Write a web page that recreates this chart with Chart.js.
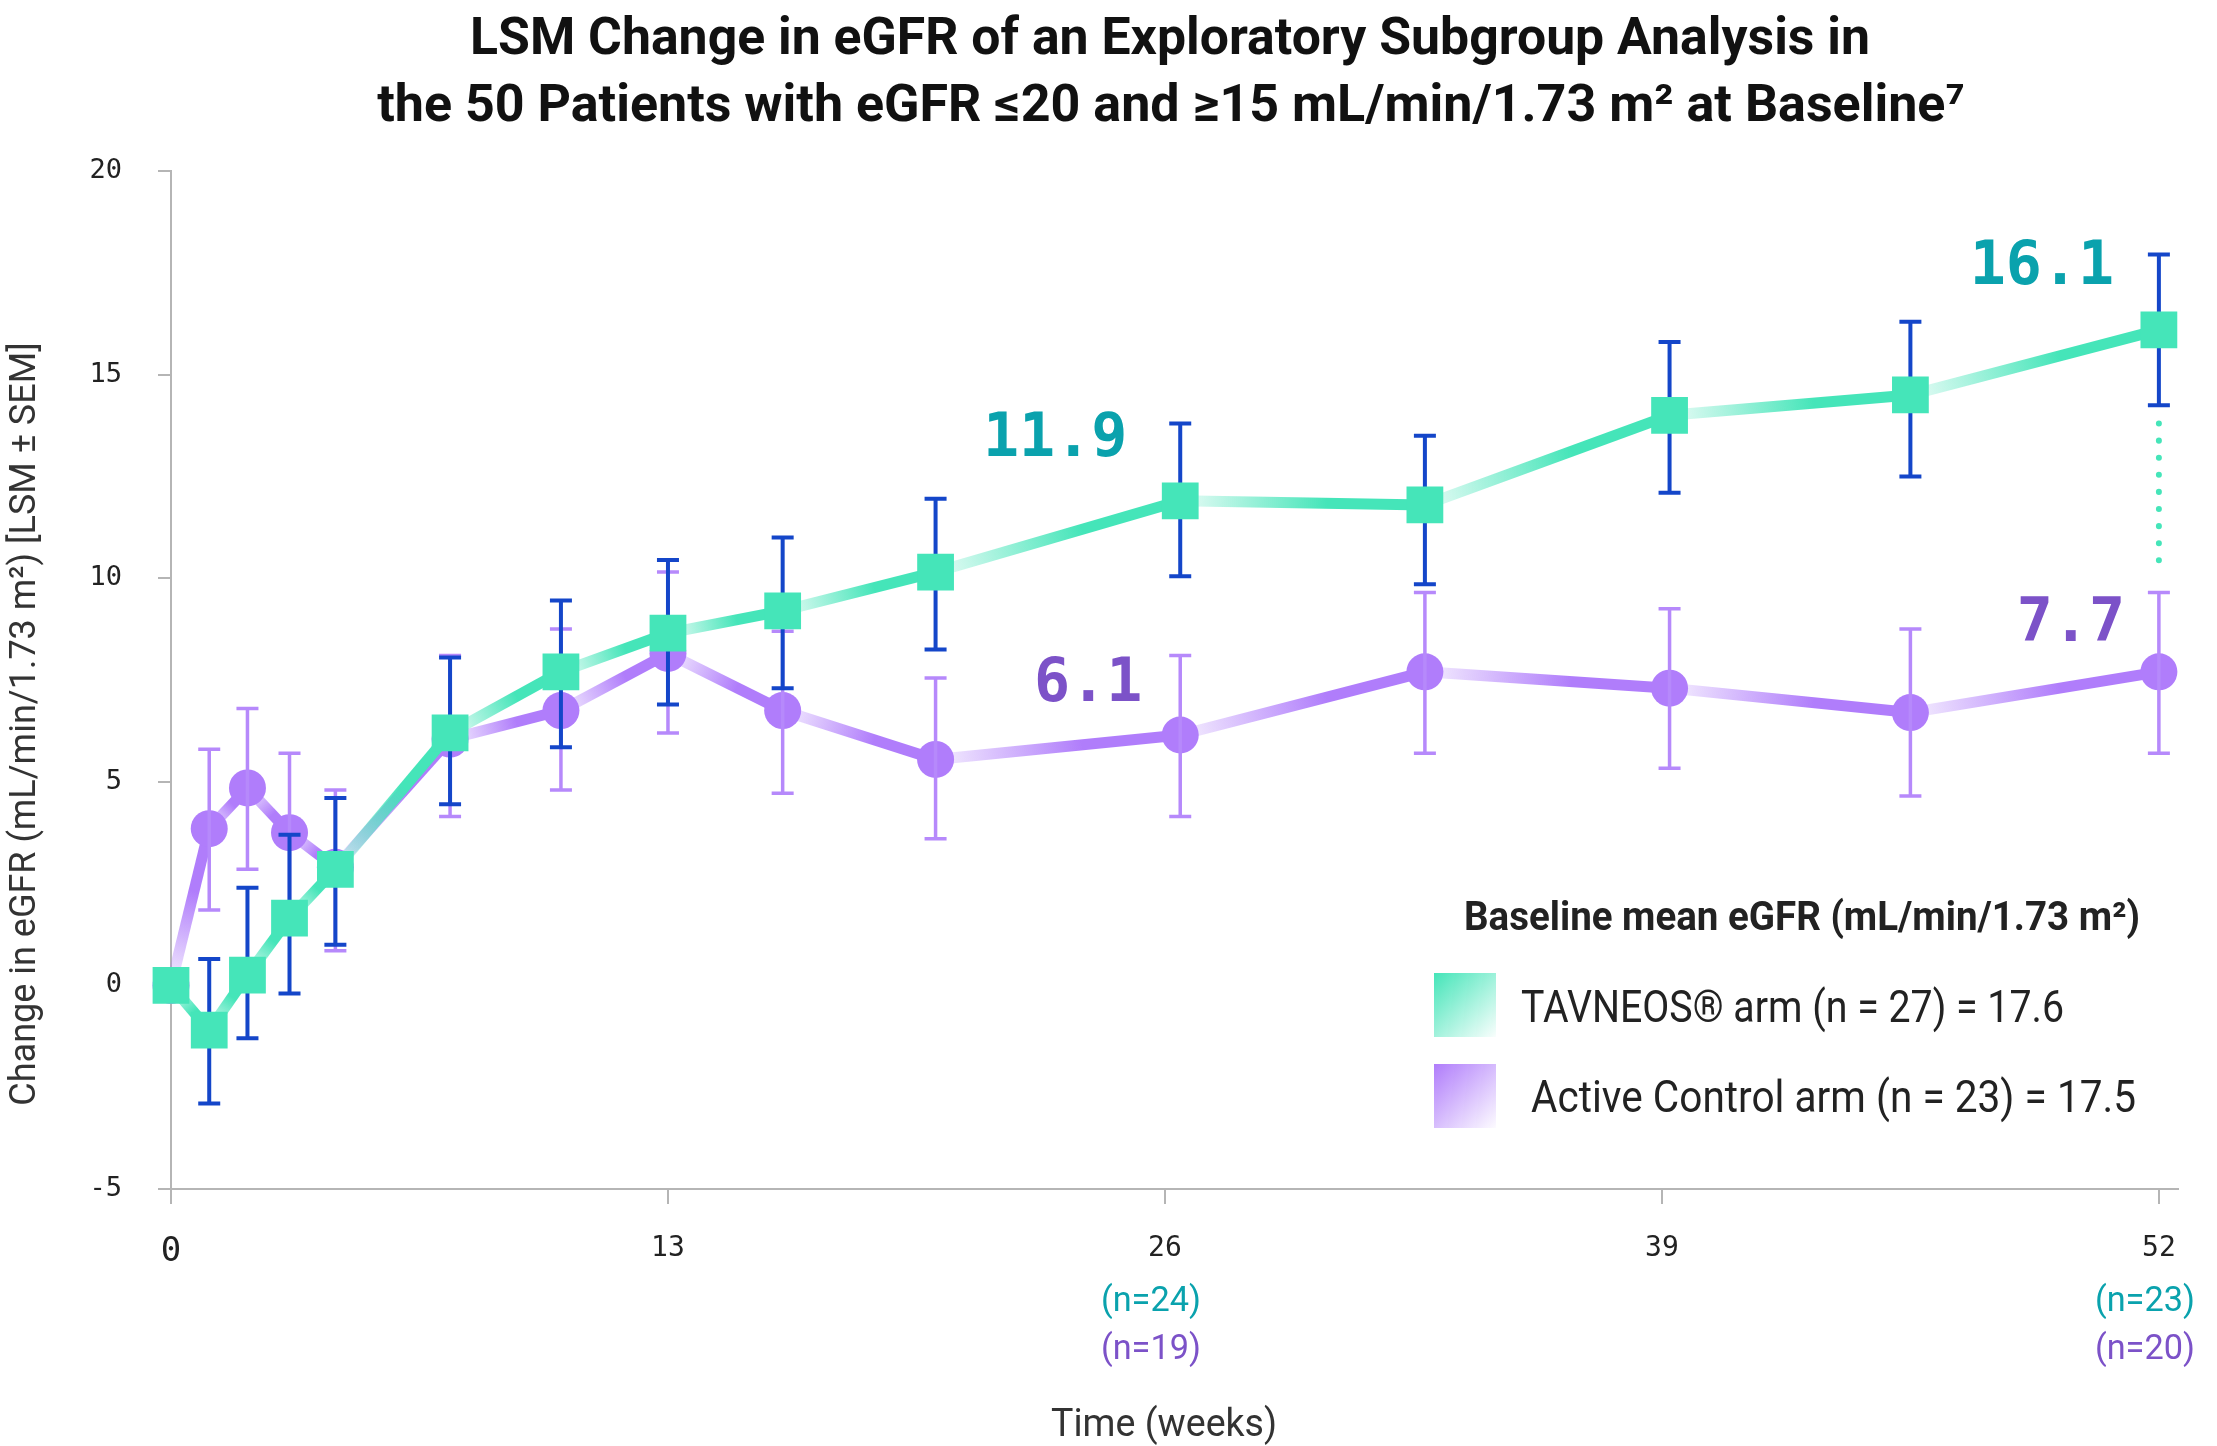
<!DOCTYPE html>
<html>
<head>
<meta charset="utf-8">
<title>LSM Change in eGFR</title>
<script src="https://cdn.jsdelivr.net/npm/chart.js@4.4.0/dist/chart.umd.min.js"></script>
<style>
    html, body { margin: 0; padding: 0; background: #fff; }
    #wrap { width: 2217px; height: 1446px; position: relative; }
</style>
</head>
<body>
<div id="wrap"><canvas id="chart"></canvas></div>
<script>
    // visit weeks, as placed on the x axis
    const weeks = [0, 1, 2, 3.1, 4.3, 7.3, 10.2, 13, 16, 20, 26.4, 32.8, 39.2, 45.5, 52];
    const xTicks = [0, 13, 26, 39, 52];

    // TAVNEOS arm: LSM change and the ends of the SEM bars
    const tavMean = [0, -1.1, 0.25, 1.65, 2.85, 6.2, 7.7, 8.65, 9.2, 10.15, 11.9, 11.8, 14.0, 14.5, 16.1];
    const tavHigh = [null, 0.65, 2.4, 3.7, 4.6, 8.05, 9.45, 10.45, 11.0, 11.95, 13.8, 13.5, 15.8, 16.3, 17.95];
    const tavLow  = [null, -2.9, -1.3, -0.2, 1.0, 4.45, 5.85, 6.9, 7.3, 8.25, 10.05, 9.85, 12.1, 12.5, 14.25];

    // Active control arm
    const ctlMean = [0, 3.85, 4.85, 3.75, 2.9, 6.05, 6.75, 8.15, 6.75, 5.55, 6.15, 7.7, 7.3, 6.7, 7.7];
    const ctlHigh = [null, 5.8, 6.8, 5.7, 4.8, 8.1, 8.75, 10.15, 8.7, 7.55, 8.1, 9.65, 9.25, 8.75, 9.65];
    const ctlLow  = [null, 1.85, 2.85, 1.8, 0.85, 4.15, 4.8, 6.2, 4.72, 3.6, 4.15, 5.7, 5.33, 4.65, 5.7];

    // big value call-outs (index into the series)
    const calloutIdx = [10, 14];
    const tavCallouts = ['11.9', '16.1'];
    const ctlCallouts = ['6.1', '7.7'];

    // patient counts under the x axis
    const nWeeks = [26, 52];
    const tavN = ['(n=24)', '(n=23)'];
    const ctlN = ['(n=19)', '(n=20)'];

    // dotted gap between arms at week 52
    const gapFrom = 13.8, gapTo = 10.25;

    const GREEN = '#45e5b9', BLUE = '#1446c9', PURPLE = '#b07dfb', LILAC = '#b689fb';
    const TEAL_TXT = '#0aa2ad', PURPLE_TXT = '#7c52c8', AXIS = '#b5b5b5';
    const SANS = 'Roboto, "Noto Sans", sans-serif';
    const MONO = '"DejaVu Sans Mono", monospace';

    function rgba(hex, a) {
        const n = parseInt(hex.slice(1), 16);
        return `rgba(${n >> 16}, ${(n >> 8) & 255}, ${n & 255}, ${a})`;
    }

    // each segment starts pale and reaches full colour towards its end
    function fade(color) {
        return c => {
            const g = c.chart.ctx.createLinearGradient(c.p0.x, c.p0.y, c.p1.x, c.p1.y);
            g.addColorStop(0, rgba(color, 0.12));
            g.addColorStop(0.6, rgba(color, 1));
            g.addColorStop(1, rgba(color, 1));
            return g;
        };
    }

    function bars(ctx, xs, ys, high, low, color, width) {
        ctx.save();
        ctx.strokeStyle = color;
        ctx.lineWidth = width;
        weeks.forEach((w, i) => {
            if (high[i] == null) return;
            const x = xs.getPixelForValue(w);
            const y1 = ys.getPixelForValue(high[i]);
            const y2 = ys.getPixelForValue(low[i]);
            ctx.beginPath();
            ctx.moveTo(x, y1); ctx.lineTo(x, y2);
            ctx.moveTo(x - 11, y1); ctx.lineTo(x + 11, y1);
            ctx.moveTo(x - 11, y2); ctx.lineTo(x + 11, y2);
            ctx.stroke();
        });
        ctx.restore();
    }

    function text(ctx, str, x, y, font, color, align, maxWidth) {
        ctx.font = font;
        ctx.fillStyle = color;
        ctx.textAlign = align || 'left';
        ctx.textBaseline = 'alphabetic';
        if (maxWidth) ctx.fillText(str, x, y, maxWidth);
        else ctx.fillText(str, x, y);
    }

    // error bars go above the control arm but under the TAVNEOS arm
    const errorBars = {
        id: 'errorBars',
        beforeDatasetDraw(chart, args) {
            if (args.index !== 0) return;
            const { x, y } = chart.scales;
            bars(chart.ctx, x, y, ctlHigh, ctlLow, LILAC, 3.5);
            bars(chart.ctx, x, y, tavHigh, tavLow, BLUE, 4);
        }
    };

    const extras = {
        id: 'extras',
        afterDraw(chart) {
            const ctx = chart.ctx;
            const { x, y } = chart.scales;
            ctx.save();

            // title
            text(ctx, 'LSM Change in eGFR of an Exploratory Subgroup Analysis in', 1170, 54, `700 52px ${SANS}`, '#111', 'center', 1400);
            text(ctx, 'the 50 Patients with eGFR ≤20 and ≥15 mL/min/1.73 m² at Baseline⁷', 1171, 121, `700 52px ${SANS}`, '#111', 'center', 1601);

            // axis titles
            ctx.save();
            ctx.translate(26, 724);
            ctx.rotate(-Math.PI / 2);
            ctx.font = `400 36px ${SANS}`;
            ctx.fillStyle = '#333';
            ctx.textAlign = 'center';
            ctx.textBaseline = 'middle';
            ctx.fillText('Change in eGFR (mL/min/1.73 m²) [LSM ± SEM]', 0, 0, 771);
            ctx.restore();
            text(ctx, 'Time (weeks)', 1164, 1436, `400 38px ${SANS}`, '#333', 'center', 226);

            // n per arm
            nWeeks.forEach((w, i) => {
                const px = x.getPixelForValue(w) - 14;
                text(ctx, tavN[i], px, 1311, `400 35px ${SANS}`, TEAL_TXT, 'center', 100);
                text(ctx, ctlN[i], px, 1359, `400 35px ${SANS}`, PURPLE_TXT, 'center', 100);
            });

            // call-outs
            const tavShift = [[-125, -45], [-117, -46]];
            const ctlShift = [[-92, -34], [-88, -31]];
            calloutIdx.forEach((k, i) => {
                const px = x.getPixelForValue(weeks[k]);
                text(ctx, tavCallouts[i], px + tavShift[i][0], y.getPixelForValue(tavMean[k]) + tavShift[i][1],
                    `700 60px ${MONO}`, TEAL_TXT, 'center');
                text(ctx, ctlCallouts[i], px + ctlShift[i][0], y.getPixelForValue(ctlMean[k]) + ctlShift[i][1],
                    `700 60px ${MONO}`, PURPLE_TXT, 'center');
            });

            // dotted gap line
            const gx = x.getPixelForValue(52);
            ctx.strokeStyle = GREEN;
            ctx.lineWidth = 6;
            ctx.lineCap = 'round';
            ctx.setLineDash([0.1, 17]);
            ctx.beginPath();
            ctx.moveTo(gx, y.getPixelForValue(gapFrom));
            ctx.lineTo(gx, y.getPixelForValue(gapTo));
            ctx.stroke();
            ctx.setLineDash([]);

            // legend
            text(ctx, 'Baseline mean eGFR (mL/min/1.73 m²)', 1464, 930, `700 40px ${SANS}`, '#222', 'left', 676);
            [[GREEN, 973, 'TAVNEOS® arm (n = 27) = 17.6', 1521, 1022, 543],
             [PURPLE, 1064, 'Active Control arm (n = 23) = 17.5', 1531, 1112, 605]].forEach(r => {
                const g = ctx.createLinearGradient(1434, r[1], 1496, r[1] + 64);
                g.addColorStop(0, rgba(r[0], 1));
                g.addColorStop(1, rgba(r[0], 0.03));
                ctx.fillStyle = g;
                ctx.fillRect(1434, r[1], 62, 64);
                text(ctx, r[2], r[3], r[4], `400 45px ${SANS}`, '#222', 'left', r[5]);
            });

            ctx.restore();
        }
    };

    const ctx = document.getElementById('chart').getContext('2d');

    new Chart(ctx, {
        type: 'line',
        data: {
            datasets: [
                {
                    label: 'TAVNEOS',
                    data: weeks.map((w, i) => ({ x: w, y: tavMean[i] })),
                    borderColor: GREEN,
                    borderWidth: 11,
                    backgroundColor: GREEN,
                    pointBackgroundColor: GREEN,
                    pointBorderWidth: 0,
                    pointStyle: 'rect',
                    pointRadius: 26,
                    pointHoverRadius: 26,
                    segment: { borderColor: fade(GREEN) },
                    clip: false
                },
                {
                    label: 'Active Control',
                    data: weeks.map((w, i) => ({ x: w, y: ctlMean[i] })),
                    borderColor: PURPLE,
                    borderWidth: 11,
                    backgroundColor: PURPLE,
                    pointBackgroundColor: PURPLE,
                    pointBorderWidth: 0,
                    pointStyle: 'circle',
                    pointRadius: 18.5,
                    pointHoverRadius: 18.5,
                    segment: { borderColor: fade(PURPLE) },
                    clip: false
                }
            ]
        },
        options: {
            responsive: true,
            maintainAspectRatio: false,
            animation: false,
            devicePixelRatio: 1,
            layout: { padding: { top: 171, right: 39, bottom: 0, left: 0 } },
            plugins: {
                legend: { display: false },
                tooltip: { enabled: false },
                title: { display: false }
            },
            scales: {
                x: {
                    type: 'linear',
                    min: 0,
                    max: 52.5,
                    afterBuildTicks: s => { s.ticks = xTicks.map(v => ({ value: v })); },
                    afterFit: s => { s.height = 257; },
                    grid: { drawOnChartArea: false, tickLength: 15, color: AXIS, lineWidth: 2 },
                    border: { color: AXIS, width: 2 },
                    ticks: {
                        padding: 28,
                        maxRotation: 0,
                        color: '#222',
                        font: c => ({ family: MONO, size: c.tick && c.tick.value === 0 ? 34 : 28 })
                    }
                },
                y: {
                    min: -5,
                    max: 20,
                    afterFit: s => { s.width = 171; },
                    grid: { drawOnChartArea: false, tickLength: 13, color: AXIS, lineWidth: 2 },
                    border: { color: AXIS, width: 2 },
                    ticks: {
                        stepSize: 5,
                        padding: 36,
                        color: '#222',
                        font: { family: MONO, size: 27 }
                    }
                }
            }
        },
        plugins: [errorBars, extras]
    });
</script>
</body>
</html>
